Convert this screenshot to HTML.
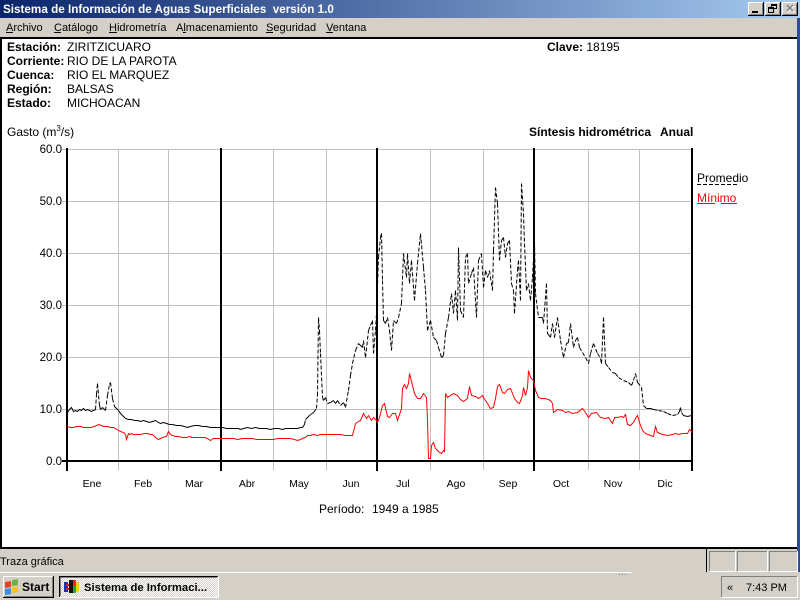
<!DOCTYPE html>
<html><head><meta charset="utf-8"><style>
html,body{margin:0;padding:0;width:800px;height:600px;overflow:hidden;background:#D4D0C8}
svg{display:block}
text{font-family:"Liberation Sans",sans-serif}
</style></head><body>
<svg width="800" height="600" viewBox="0 0 800 600" xmlns="http://www.w3.org/2000/svg">
<defs>
<linearGradient id="tg" x1="0" y1="0" x2="1" y2="0">
<stop offset="0" stop-color="#0A246A"/><stop offset="1" stop-color="#A6CAF0"/>
</linearGradient>
<pattern id="dith" width="2" height="2" patternUnits="userSpaceOnUse">
<rect width="2" height="2" fill="#D4D0C8"/><rect width="1" height="1" fill="#FFFFFF"/><rect x="1" y="1" width="1" height="1" fill="#FFFFFF"/>
</pattern>
</defs>
<rect width="800" height="600" fill="#D4D0C8"/>
<!-- title bar -->
<rect x="0" y="0" width="800" height="18" fill="url(#tg)"/>
<text x="3" y="13" font-size="11.7" font-weight="bold" fill="#fff">Sistema de Información de Aguas Superficiales&#160; versión 1.0</text>
<!-- buttons -->
<g>
<rect x="748" y="2" width="16" height="14" fill="#D4D0C8"/>
<path d="M748 15.5H763.5V2" stroke="#000" fill="none"/><path d="M749 14.5H762.5V3" stroke="#808080" fill="none"/><path d="M748.5 15V2.5H763" stroke="#fff" fill="none"/>
<rect x="752" y="11" width="6" height="2" fill="#000"/>
<rect x="765" y="2" width="16" height="14" fill="#D4D0C8"/>
<path d="M765 15.5H780.5V2" stroke="#000" fill="none"/><path d="M766 14.5H779.5V3" stroke="#808080" fill="none"/><path d="M765.5 15V2.5H780" stroke="#fff" fill="none"/>
<rect x="771.5" y="4.5" width="5" height="4" fill="none" stroke="#000"/><rect x="771" y="4" width="6" height="2" fill="#000"/>
<rect x="768.5" y="7.5" width="5" height="5" fill="#D4D0C8" stroke="#000"/><rect x="768" y="7" width="6" height="2" fill="#000"/>
<rect x="782" y="2" width="16" height="14" fill="#D4D0C8"/>
<path d="M782 15.5H797.5V2" stroke="#000" fill="none"/><path d="M783 14.5H796.5V3" stroke="#808080" fill="none"/><path d="M782.5 15V2.5H797" stroke="#fff" fill="none"/>
<path d="M787 5L793 11M793 5L787 11" stroke="#fff" stroke-width="1.5" transform="translate(1 1)"/>
<path d="M787 5L793 11M793 5L787 11" stroke="#808080" stroke-width="1.5"/>
</g>
<!-- menu -->
<g font-size="11" fill="#000">
<text x="6" y="31">Archivo</text><rect x="6" y="32" width="7" height="1" fill="#000"/>
<text x="54" y="31">Catálogo</text><rect x="54" y="32" width="7" height="1" fill="#000"/>
<text x="109" y="31">Hidrometría</text><rect x="109" y="32" width="8" height="1" fill="#000"/>
<text x="176" y="31">Almacenamiento</text><rect x="183" y="32" width="3" height="1" fill="#000"/>
<text x="266" y="31">Seguridad</text><rect x="266" y="32" width="7" height="1" fill="#000"/>
<text x="326" y="31">Ventana</text><rect x="326" y="32" width="7" height="1" fill="#000"/>
</g>
<!-- content -->
<rect x="0" y="37" width="797" height="512" fill="#000"/>
<rect x="2" y="39" width="795" height="508" fill="#fff"/>
<rect x="797" y="18" width="3" height="556" fill="#2B4E9A"/>
<!-- header info -->
<g font-size="12" fill="#000">
<text x="7" y="51" font-weight="bold">Estación:</text><text x="67" y="51">ZIRITZICUARO</text>
<text x="7" y="65" font-weight="bold">Corriente:</text><text x="67" y="65">RIO DE LA PAROTA</text>
<text x="7" y="79" font-weight="bold">Cuenca:</text><text x="67" y="79">RIO EL MARQUEZ</text>
<text x="7" y="93" font-weight="bold">Región:</text><text x="67" y="93">BALSAS</text>
<text x="7" y="107" font-weight="bold">Estado:</text><text x="67" y="107">MICHOACAN</text>
<text x="547" y="51"><tspan font-weight="bold">Clave:</tspan> 18195</text>
<text x="7" y="136">Gasto (m<tspan dy="-5" font-size="8">3</tspan><tspan dy="5">/s)</tspan></text>
<text x="529" y="136" font-weight="bold">Síntesis hidrométrica</text>
<text x="660" y="136" font-weight="bold">Anual</text>
</g>
<!-- grid -->
<g stroke="#C0C0C0" stroke-width="1" shape-rendering="crispEdges">
<path d="M62 149.5H692M62 201.5H692M62 253.5H692M62 305.5H692M62 357.5H692M62 409.5H692"/>
<path d="M118.5 149V470M168.5 149V470M273.5 149V470M326.5 149V470M430.5 149V470M483.5 149V470M588.5 149V470M639.5 149V470"/>
</g>
<g fill="#000">
<rect x="62" y="460" width="631" height="2"/>
<rect x="66" y="148" width="2" height="323"/>
<rect x="220" y="148" width="2" height="323"/>
<rect x="376" y="148" width="2" height="323"/>
<rect x="533" y="148" width="2" height="323"/>
<rect x="691" y="148" width="2" height="323"/>
</g>
<g font-size="11.5" fill="#000" text-anchor="end">
<text x="62" y="153">60.0</text><text x="62" y="205">50.0</text><text x="62" y="257">40.0</text>
<text x="62" y="309">30.0</text><text x="62" y="361">20.0</text><text x="62" y="413">10.0</text><text x="62" y="465">0.0</text>
</g>
<g font-size="10.5" fill="#000" text-anchor="middle">
<text x="92" y="487">Ene</text><text x="143" y="487">Feb</text><text x="194" y="487">Mar</text>
<text x="247" y="487">Abr</text><text x="299" y="487">May</text><text x="351" y="487">Jun</text>
<text x="403" y="487">Jul</text><text x="456" y="487">Ago</text><text x="508" y="487">Sep</text>
<text x="561" y="487">Oct</text><text x="613" y="487">Nov</text><text x="665" y="487">Dic</text>
</g>
<text x="319" y="513" font-size="12">Período:</text>
<text x="372" y="513" font-size="12">1949 a 1985</text>
<!-- legend -->
<text x="697" y="182" font-size="12" fill="#000">Promedio</text>
<line x1="697" y1="184.5" x2="737" y2="184.5" stroke="#000" stroke-dasharray="4 2"/>
<text x="697" y="202" font-size="12" fill="#FF0000">Mínimo</text>
<path d="M697 203.5H715M721 203.5H737" stroke="#FF0000"/>
<!-- series -->
<g transform="translate(0.5 0.5)" fill="none">
<polyline stroke="#FF0000" stroke-width="1" points="67,426 70,427 73,427 76,426 80,426 83,427 87,427 90,427 94,426 98,424 101,425 103,426 107,426 110,427 113,427 115,428 118,430 120,431 123,432 125,434 126,439 128,433 129,434 131,433 133,434 137,434 140,434 144,433 147,433 150,434 152,434 155,437 158,439 160,438 162,437 166,436 168,431 170,434 172,435 175,436 178,436 182,437 186,437 189,436 192,437 196,437 200,437 204,437 207,438 210,440 213,438 216,438 220,438 224,438 228,438 233,438 237,439 242,438 247,438 252,438 256,439 260,439 265,439 270,439 273,439 277,438 280,438 285,438 290,438 294,439 297,440 300,439 302,438 305,437 307,435 310,435 313,434 317,435 320,434 325,434 330,434 335,434 340,434 345,435 350,435 352,435 355,423 358,421 360,420 363,413 366,418 368,415 371,420 373,417 376,420 377,422 379,417 382,405 384,403 387,416 389,417 392,413 395,413 397,420 401,408 402,388 404,384 406,388 408,383 409,373 412,385 414,393 417,398 420,398 423,393 426,397 427,420 428,458 430,458 431,445 433,442 435,448 438,451 441,453 443,450 444,451 445,393 447,397 450,395 453,393 457,395 460,399 463,401 467,398 469,386 471,395 475,396 478,398 482,395 483,397 487,403 490,408 493,407 495,398 497,386 499,384 502,392 504,393 507,389 510,388 512,393 514,398 517,402 519,403 522,395 523,387 525,395 527,387 528,370 530,377 533,380 535,390 538,397 541,398 545,398 550,400 552,403 553,412 557,409 562,410 565,412 568,411 572,413 577,412 582,408 585,412 588,417 591,413 596,412 600,417 605,418 608,417 612,423 614,417 617,417 621,416 623,417 625,414 627,424 630,425 633,422 635,418 637,415 639,422 642,430 645,433 650,435 653,436 655,426 657,432 662,434 667,435 672,434 675,433 678,434 682,433 687,433 689,429 692,432"/>
<polyline stroke="#000" stroke-width="1" points="67,412 69,409 71,407 73,411 75,410 77,411 79,409 81,410 83,408 85,410 87,409 89,410 91,411 93,410 95,409"/>
<polyline stroke="#000" stroke-width="1" points="118,410 120,413 122,415 125,418 128,419 131,419 134,420 137,420 140,421 143,420 146,421 149,422 152,421 155,420 158,422 160,423 163,422 166,423 169,424 172,424 176,425 180,425 184,426 187,427 190,426 194,425 198,425 202,426 206,426 210,427 214,427 218,427 222,427 226,428 230,428 234,428 238,428 240,429 243,428 247,427 251,428 255,427 259,428 262,428 266,428 270,429 274,428 278,428 282,429 285,428 289,428 293,428 297,428 300,427 302,427 304,424"/>
<path stroke="#000" stroke-width="1" stroke-dasharray="4 2" d="M95 409L96 394M96 394L97 383M97 383L99 405M99 405L100 409M100 409L102 407M102 407L104 409M104 409L105 410M105 410L107 395M107 395L109 384M109 384L110 382M110 382L112 398M112 398L114 406M114 406L116 408M116 408L118 410"/>
<path stroke="#000" stroke-width="1" stroke-dasharray="4 2" d="M304 424L305 419M305 419L307 417M307 417L310 414M310 414L313 412M313 412L316 408M316 408L317 395M317 395L318 317M318 317L319 330M319 330L320 353M320 353L322 397M322 397L323 400M323 400L325 397M325 397L327 403M327 403L330 402M330 402L333 400M333 400L335 403M335 403L337 400M337 400L340 405M340 405L343 402M343 402L345 407M345 407L347 395M347 395L348 390M348 390L350 375M350 375L352 363M352 363L355 350M355 350L358 343M358 343L360 345M360 345L362 347M362 347L363 340M363 340L365 357M365 357L368 330M368 330L370 325M370 325L372 320M372 320L373 353M373 353L375 330M375 330L376 313M376 313L378 257M378 257L380 237M380 237L381 233M381 233L382 280M382 280L383 320M383 320L385 323M385 323L387 317M387 317L389 330M389 330L391 350M391 350L393 320M393 320L396 323M396 323L398 317M398 317L401 303M401 303L403 253M403 253L406 277M406 277L407 253M407 253L409 283M409 283L411 260M411 260L414 300M414 300L417 263M417 263L420 233M420 233L423 267M423 267L425 290M425 290L427 330M427 330L430 320M430 320L433 337M433 337L436 340M436 340L438 347M438 347L441 357M441 357L443 355M443 355L445 333M445 333L448 317M448 317L451 293M451 293L453 313M453 313L455 290M455 290L457 320M457 320L458 247M458 247L460 310M460 310L463 317M463 317L465 257M465 257L467 253M467 253L468 283M468 283L471 273M471 273L473 267M473 267L476 317M476 317L478 260M478 260L481 253M481 253L483 287M483 287L485 270M485 270L487 277M487 277L489 270M489 270L492 290M492 290L493 250M493 250L495 187M495 187L497 203M497 203L499 260M499 260L501 240M501 240L503 237M503 237L505 257M505 257L507 243M507 243L509 240M509 240L511 283M511 283L513 290M513 290L514 313M514 313L517 270M517 270L518 260M518 260L520 300M520 300L521 183M521 183L523 213M523 213L524 243M524 243L526 290M526 290L528 283M528 283L530 300M530 300L532 277M532 277L534 240M534 240L535 293M535 293L538 317M538 317L540 317M540 317L542 317M542 317L543 323M543 323L546 283M546 283L547 333M547 333L550 337M550 337L552 323M552 323L554 337M554 337L557 317M557 317L560 340M560 340L563 357M563 357L566 343M566 343L568 342M568 342L570 323M570 323L573 347M573 347L575 340M575 340L577 337M577 337L579 347M579 347L582 352M582 352L585 357M585 357L588 363M588 363L590 353M590 353L593 343M593 343L597 353M597 353L600 358M600 358L601 363M601 363L603 317M603 317L605 363M605 363L608 367M608 367L612 372M612 372L615 373M615 373L618 377M618 377L623 380M623 380L628 382M628 382L631 385M631 385L633 380M633 380L635 373M635 373L637 382M637 382L641 387M641 387L643 405M643 405L646 408M646 408L650 408M650 408L653 409M653 409L658 410M658 410L663 411M663 411L667 413M667 413L672 415M672 415L677 414M677 414L679 411M679 411L680 407M680 407L681 412M681 412L683 415M683 415L687 416M687 416L691 415"/>
</g>
<!-- status bar -->
<rect x="0" y="549" width="797" height="23" fill="#D4D0C8"/>
<text x="0" y="565" font-size="11" fill="#000">Traza gráfica</text>
<rect x="706" y="549" width="1" height="23" fill="#000"/>
<g fill="none" shape-rendering="crispEdges">
<path d="M709.5 571V551.5H735" stroke="#808080"/><path d="M709.5 571.5H735.5V551" stroke="#fff"/>
<path d="M737.5 571V551.5H767" stroke="#808080"/><path d="M737.5 571.5H767.5V551" stroke="#fff"/>
<path d="M769.5 571V551.5H797" stroke="#808080"/><path d="M769.5 571.5H797.5V551" stroke="#fff"/>
</g>
<!-- taskbar -->
<rect x="0" y="572" width="800" height="28" fill="#D4D0C8"/>
<rect x="0" y="572" width="632" height="1" fill="#fff"/>
<g fill="#808080"><rect x="619" y="574" width="1" height="1"/><rect x="622" y="574" width="1" height="1"/><rect x="625" y="574" width="1" height="1"/></g>
<!-- start button -->
<g shape-rendering="crispEdges">
<rect x="3" y="576" width="51" height="22" fill="#D4D0C8"/>
<path d="M3.5 597V576.5H53" stroke="#fff" fill="none"/>
<path d="M3 597.5H53.5V576" stroke="#000" fill="none"/>
<path d="M4 596.5H52.5V577" stroke="#808080" fill="none"/>
</g>
<g transform="translate(5 580) skewY(-8)">
<rect x="0" y="2" width="6" height="6" fill="#E8411C"/>
<rect x="7" y="1" width="6" height="6" fill="#6CB33F"/>
<rect x="0" y="9" width="6" height="6" fill="#3A8FDE"/>
<rect x="7" y="8" width="6" height="6" fill="#F9C317"/>
</g>
<text x="22" y="591" font-size="12" font-weight="bold" fill="#000">Start</text>
<!-- task button pressed -->
<g shape-rendering="crispEdges">
<rect x="59" y="576" width="160" height="22" fill="url(#dith)"/>
<path d="M59.5 597V576.5H218" stroke="#000" fill="none"/>
<path d="M60.5 596V577.5H217" stroke="#808080" fill="none"/>
<path d="M59 597.5H218.5V576" stroke="#fff" fill="none"/>
</g>
<g>
<rect x="64" y="582" width="4" height="10" fill="#1030c0"/>
<rect x="66" y="584" width="3" height="2" fill="#d02020"/>
<rect x="66" y="588" width="3" height="2" fill="#d02020"/>
<rect x="69" y="580" width="4" height="13" fill="#101010"/>
<rect x="73" y="580" width="3" height="6" fill="#e03030"/>
<rect x="73" y="586" width="3" height="7" fill="#30a030"/>
<rect x="76" y="582" width="3" height="10" fill="#f0d020"/>
</g>
<text x="84" y="591" font-size="11.3" font-weight="bold" fill="#000">Sistema de Informaci...</text>
<!-- tray -->
<g shape-rendering="crispEdges">
<path d="M721.5 597V576.5H797" stroke="#808080" fill="none"/>
<path d="M721.5 597.5H797.5V576" stroke="#fff" fill="none"/>
</g>
<text x="727" y="591" font-size="11" fill="#000">«</text>
<text x="746" y="591" font-size="11" fill="#000">7:43 PM</text>
</svg>
</body></html>
